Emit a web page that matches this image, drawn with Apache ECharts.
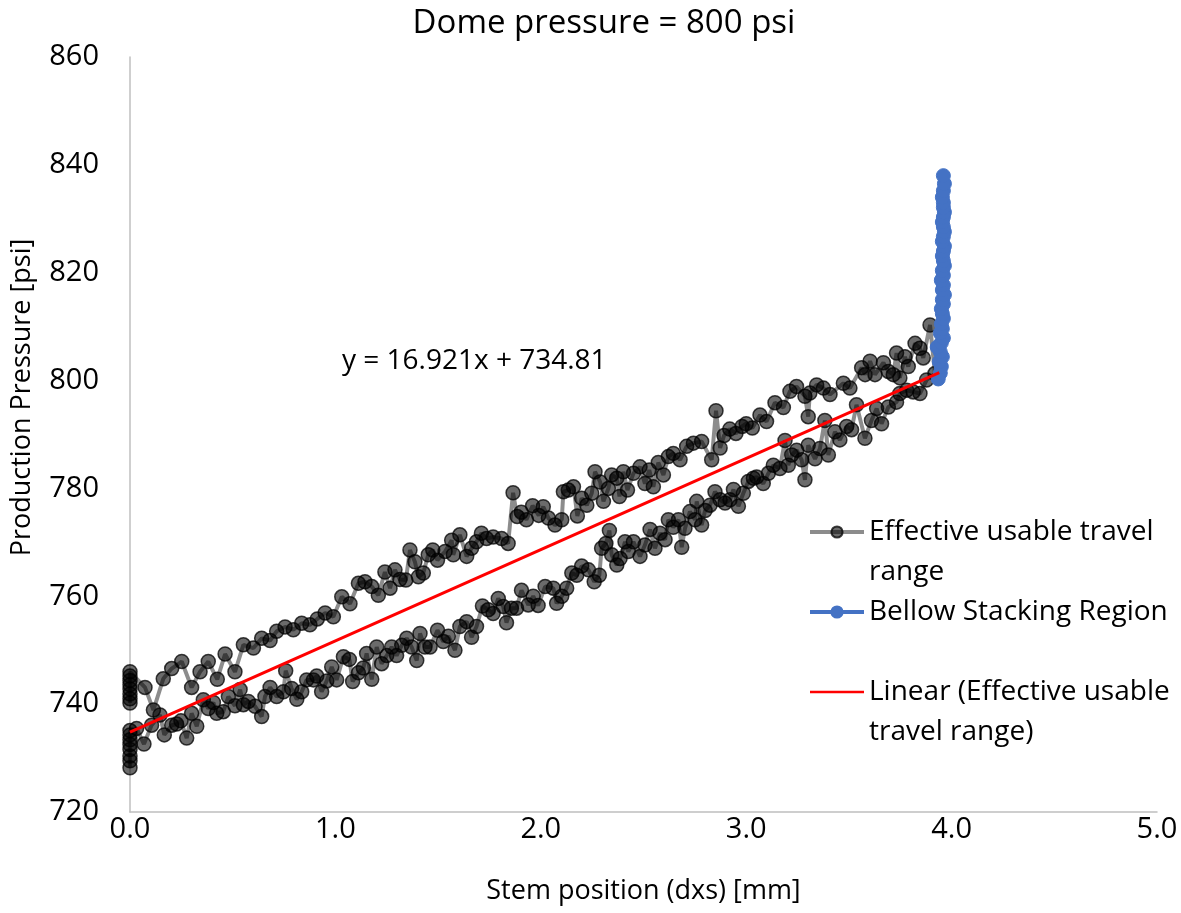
<!DOCTYPE html>
<html>
<head>
<meta charset="utf-8">
<title>Dome pressure = 800 psi</title>
<script src="https://cdn.jsdelivr.net/npm/echarts@6/dist/echarts.min.js"></script>
<style>
  html, body { margin: 0; padding: 0; background: #fff; }
  #chart { width: 1181px; height: 913px; }
</style>
</head>
<body>
<div id="chart"></div>
<script>
// loading branch (stem moving out), [stem position mm, pressure psi]
const loadingBranch = [
  [0, 728.2], [0, 729.5], [0, 730.4], [0, 731.6], [0, 732.5], [0, 733.4], [0, 734.3], [0, 735.1],
  [0.032, 735.5], [0.068, 732.6], [0.105, 736.1], [0.146, 738.0], [0.167, 734.3], [0.203, 736.1],
  [0.227, 736.3], [0.248, 736.9], [0.276, 733.7], [0.300, 738.3], [0.325, 735.9], [0.357, 740.8],
  [0.381, 739.2], [0.406, 740.3], [0.422, 738.3], [0.454, 738.6], [0.479, 741.4], [0.511, 739.7],
  [0.536, 742.7], [0.552, 739.9], [0.576, 740.5], [0.609, 739.6], [0.641, 737.7], [0.657, 741.4],
  [0.682, 743.1], [0.714, 741.4], [0.747, 742.3], [0.758, 746.2], [0.787, 742.9], [0.812, 740.9],
  [0.836, 742.3], [0.860, 744.5], [0.893, 744.5], [0.909, 745.2], [0.933, 742.3], [0.958, 744.3],
  [0.982, 746.9], [1.006, 744.5], [1.039, 748.8], [1.068, 748.3], [1.084, 744.2], [1.112, 745.8],
  [1.136, 746.7], [1.152, 749.4], [1.177, 744.6], [1.201, 750.6], [1.225, 747.5], [1.250, 749.0],
  [1.274, 750.6], [1.298, 749.0], [1.323, 750.9], [1.347, 752.2], [1.371, 750.6], [1.396, 748.1],
  [1.412, 753.1], [1.436, 750.6], [1.461, 750.6], [1.497, 753.7], [1.525, 751.6], [1.550, 752.6],
  [1.582, 750.0], [1.606, 754.4], [1.639, 755.3], [1.663, 752.4], [1.687, 754.4], [1.716, 758.2],
  [1.744, 757.5], [1.768, 756.8], [1.793, 759.6], [1.817, 758.1], [1.833, 755.1], [1.857, 757.8],
  [1.882, 757.8], [1.906, 761.1], [1.939, 758.4], [1.963, 760.0], [1.987, 758.3], [2.021, 761.8],
  [2.061, 761.5], [2.077, 758.7], [2.102, 760.0], [2.126, 761.5], [2.151, 764.3], [2.175, 763.9],
  [2.199, 765.6], [2.232, 764.9], [2.260, 762.7], [2.285, 763.9], [2.296, 768.9], [2.317, 769.8],
  [2.334, 772.2], [2.345, 767.7], [2.370, 765.8], [2.386, 767.0], [2.410, 770.1], [2.426, 768.3],
  [2.451, 770.1], [2.483, 767.4], [2.507, 769.5], [2.532, 772.4], [2.556, 768.9], [2.580, 771.7],
  [2.605, 770.5], [2.621, 774.2], [2.645, 772.8], [2.670, 774.2], [2.686, 769.1], [2.702, 772.6],
  [2.726, 775.7], [2.751, 774.2], [2.759, 777.6], [2.783, 773.2], [2.800, 775.9], [2.824, 776.9],
  [2.848, 779.4], [2.873, 777.9], [2.897, 777.3], [2.921, 777.9], [2.938, 779.8], [2.962, 776.7],
  [2.986, 779.1], [3.010, 781.3], [3.035, 781.9], [3.051, 782.1], [3.083, 780.9], [3.108, 782.8],
  [3.132, 784.3], [3.164, 783.7], [3.189, 788.9], [3.205, 784.3], [3.221, 786.2], [3.246, 787.1],
  [3.270, 785.3], [3.286, 781.6], [3.302, 788.0], [3.335, 785.5], [3.359, 787.4], [3.383, 792.6],
  [3.400, 786.2], [3.432, 790.5], [3.456, 789.0], [3.489, 791.5], [3.513, 790.9], [3.537, 795.5],
  [3.578, 789.3], [3.610, 792.6], [3.635, 794.8], [3.659, 792.0], [3.692, 795.1], [3.732, 796.0],
  [3.748, 797.6], [3.781, 798.2], [3.813, 797.9], [3.846, 797.6], [3.878, 800.1], [3.919, 801.3]
];

// unloading branch (stem moving back), [stem position mm, pressure psi]
const unloadingBranch = [
  [3.895, 810.3], [3.862, 804.2], [3.846, 806.0], [3.822, 806.9], [3.789, 802.6], [3.773, 804.4],
  [3.748, 800.5], [3.732, 805.1], [3.716, 801.1], [3.692, 801.7], [3.668, 803.3], [3.627, 801.1],
  [3.603, 803.6], [3.579, 801.1], [3.562, 802.4], [3.505, 798.6], [3.473, 799.5], [3.408, 797.4],
  [3.376, 798.6], [3.343, 799.2], [3.310, 797.7], [3.302, 793.3], [3.286, 797.1], [3.245, 798.9],
  [3.213, 798.0], [3.181, 795.0], [3.140, 795.9], [3.099, 792.4], [3.067, 793.6], [3.030, 791.2],
  [3.000, 792.0], [2.980, 791.5], [2.950, 790.2], [2.920, 791.0], [2.892, 789.8], [2.873, 787.5],
  [2.853, 794.4], [2.832, 785.3], [2.783, 788.7], [2.743, 788.4], [2.710, 787.8], [2.678, 785.3],
  [2.645, 786.5], [2.621, 785.9], [2.597, 782.5], [2.572, 784.8], [2.548, 780.3], [2.528, 783.4],
  [2.507, 780.9], [2.483, 784.0], [2.451, 782.8], [2.422, 779.7], [2.402, 783.1], [2.383, 778.5],
  [2.370, 781.9], [2.345, 782.5], [2.329, 780.0], [2.305, 777.6], [2.289, 781.2], [2.264, 783.1],
  [2.248, 779.1], [2.224, 776.9], [2.199, 778.2], [2.178, 774.9], [2.159, 780.3], [2.134, 779.7],
  [2.110, 779.4], [2.102, 774.2], [2.069, 773.2], [2.037, 774.5], [2.012, 776.6], [1.990, 775.0],
  [1.960, 776.8], [1.930, 774.2], [1.905, 775.6], [1.885, 774.8], [1.865, 779.2], [1.841, 769.8],
  [1.809, 770.7], [1.768, 771.0], [1.736, 770.7], [1.711, 771.7], [1.687, 770.1], [1.663, 768.9],
  [1.639, 767.4], [1.606, 771.4], [1.574, 767.7], [1.566, 770.4], [1.534, 768.3], [1.497, 766.7],
  [1.474, 768.6], [1.452, 767.7], [1.428, 764.3], [1.404, 763.6], [1.387, 766.4], [1.363, 768.6],
  [1.343, 763.0], [1.314, 763.1], [1.290, 764.9], [1.266, 761.5], [1.241, 764.5], [1.209, 760.2],
  [1.177, 761.8], [1.144, 762.7], [1.112, 762.4], [1.071, 758.6], [1.031, 759.9], [0.990, 756.2],
  [0.950, 756.9], [0.912, 755.8], [0.876, 754.7], [0.836, 755.0], [0.795, 753.8], [0.755, 754.3],
  [0.714, 753.5], [0.682, 751.8], [0.641, 752.2], [0.601, 750.4], [0.552, 751.0], [0.511, 746.0],
  [0.463, 749.3], [0.425, 744.6], [0.381, 747.9], [0.341, 746.0], [0.300, 743.1], [0.252, 747.9],
  [0.203, 746.6], [0.162, 744.7], [0.114, 738.9], [0.073, 743.1],
  [0, 746.0], [0, 745.2], [0, 744.4], [0, 743.6], [0, 742.8], [0, 741.9], [0, 741.0], [0, 740.2]
];

// bellow stacking region, stem stops near 3.95 mm while pressure keeps rising
const stackX = [3.935, 3.945, 3.950, 3.940, 3.955, 3.945, 3.930, 3.950, 3.960, 3.945, 3.955, 3.950, 3.960, 3.955,
  3.950, 3.960, 3.955, 3.965, 3.955, 3.960, 3.950, 3.960, 3.955, 3.965, 3.960, 3.955, 3.960, 3.965, 3.955, 3.960,
  3.965, 3.960, 3.955, 3.960, 3.965, 3.960, 3.960, 3.955, 3.960, 3.965, 3.960];
const stackY = [800.3, 801.4, 802.6, 803.5, 804.4, 805.3, 806.2, 807.0, 807.9, 808.8, 809.6, 810.5, 811.5, 812.4,
  813.3, 814.2, 815.0, 815.9, 816.8, 817.7, 818.6, 819.5, 820.4, 821.3, 822.2, 823.1, 824.0, 824.9, 825.8, 826.7,
  827.6, 828.5, 829.4, 830.3, 831.2, 832.1, 833.0, 834.0, 835.2, 836.5, 838.0];

// trendline printed on the chart
const trendSlope = 16.921;
const trendIntercept = 734.81;
const trendX = [0, 3.94];

const xTicks = [0, 1, 2, 3, 4, 5];

const FONT = '"Open Sans"';
const chart = echarts.init(document.getElementById('chart'));

const effective = loadingBranch.concat(unloadingBranch);
const stacking = stackX.map((x, i) => [x, stackY[i]]);
const trend = trendX.map(x => [x, trendSlope * x + trendIntercept]);

const option = {
  animation: false,
  textStyle: { fontFamily: FONT },
  title: [
    {
      text: 'Dome pressure = 800 psi',
      left: 599,
      top: 2,
      textAlign: 'center',
      textStyle: { fontFamily: FONT, fontSize: 33, fontWeight: 'normal', color: '#000' }
    },
    {
      text: 'y = 16.921x + 734.81',
      left: 337,
      top: 342,
      textStyle: { fontFamily: FONT, fontSize: 28, fontWeight: 'normal', color: '#000' }
    }
  ],
  grid: { left: 130, right: 24, top: 57, bottom: 101, containLabel: false },
  legend: {
    orient: 'vertical',
    left: 803,
    top: 467,
    itemWidth: 54,
    itemHeight: 14,
    itemGap: 0,
    textStyle: { fontFamily: FONT, fontSize: 28, color: '#000', lineHeight: 40 },
    data: [
      { name: 'Effective usable travel range', lineStyle: { width: 4 } },
      { name: 'Bellow Stacking Region', lineStyle: { width: 4 } },
      {
        name: 'Linear (Effective usable travel range)',
        lineStyle: { width: 2.5 },
        itemStyle: { opacity: 0 }
      }
    ],
    formatter: function (name) {
      // blank first line keeps the icon level with the first text line
      if (name === 'Effective usable travel range') return '\nEffective usable travel\nrange';
      if (name === 'Linear (Effective usable travel range)') return '\nLinear (Effective usable\ntravel range)';
      return name;
    }
  },
  xAxis: {
    type: 'value',
    min: xTicks[0],
    max: xTicks[xTicks.length - 1],
    interval: 1,
    name: 'Stem position (dxs) [mm]',
    nameLocation: 'middle',
    nameGap: 66,
    nameTextStyle: { fontFamily: FONT, fontSize: 27, color: '#000' },
    axisLine: { lineStyle: { color: '#bfbfbf', width: 1.5 } },
    axisTick: { show: false },
    splitLine: { show: false },
    axisLabel: {
      margin: 3,
      fontFamily: FONT,
      fontSize: 29,
      color: '#000',
      formatter: v => v.toFixed(1)
    }
  },
  yAxis: {
    type: 'value',
    min: 720,
    max: 860,
    interval: 20,
    name: 'Production Pressure [psi]',
    nameLocation: 'middle',
    nameGap: 94,
    nameTextStyle: { fontFamily: FONT, fontSize: 27, color: '#000', padding: [0, 0, 0, 74] },
    axisLine: { show: true, lineStyle: { color: '#bfbfbf', width: 1.5 } },
    axisTick: { show: false },
    splitLine: { show: false },
    axisLabel: { margin: 31, fontFamily: FONT, fontSize: 29, color: '#000' }
  },
  series: [
    {
      name: 'Effective usable travel range',
      type: 'line',
      data: effective,
      symbol: 'circle',
      symbolSize: 14,
      z: 2,
      lineStyle: { color: 'rgba(0,0,0,0.45)', width: 4 },
      itemStyle: { color: 'rgba(0,0,0,0.58)', borderColor: 'rgba(0,0,0,0.75)', borderWidth: 1.5 }
    },
    {
      name: 'Bellow Stacking Region',
      type: 'line',
      data: stacking,
      symbol: 'circle',
      symbolSize: 14,
      z: 3,
      lineStyle: { color: '#4472C4', width: 4 },
      itemStyle: { color: '#4472C4', borderColor: '#4472C4', borderWidth: 1 }
    },
    {
      name: 'Linear (Effective usable travel range)',
      type: 'line',
      data: trend,
      symbol: 'none',
      z: 4,
      lineStyle: { color: '#ff0000', width: 3 },
      itemStyle: { color: '#ff0000' }
    }
  ]
};

chart.setOption(option);
</script>
</body>
</html>
